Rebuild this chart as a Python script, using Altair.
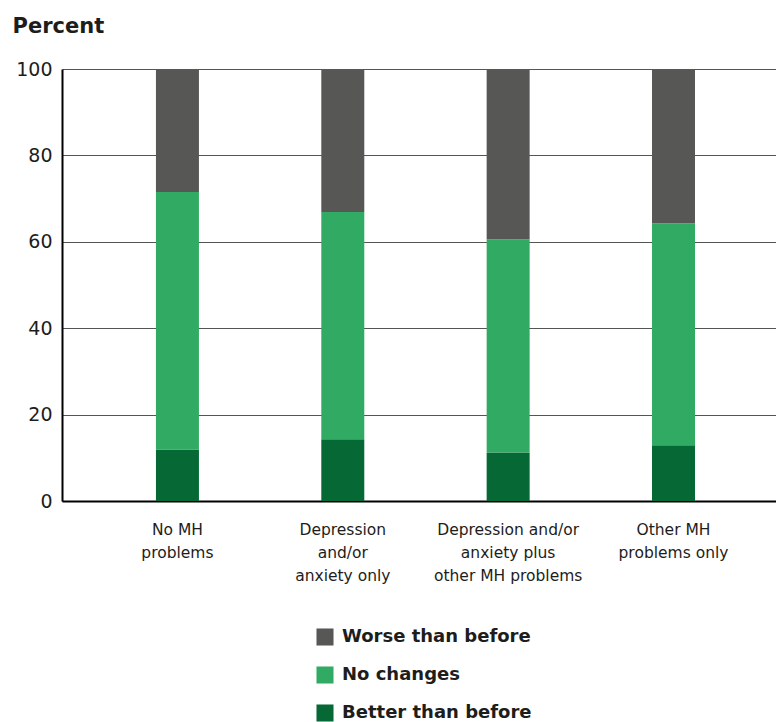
import altair as alt
import pandas as pd

categories = ["No MH|problems", "Depression|and/or|anxiety only",
              "Depression and/or|anxiety plus|other MH problems", "Other MH|problems only"]
series = ["Worse than before", "No changes", "Better than before"]
better = [11.9, 14.3, 11.2, 12.9]
no_change = [59.6, 52.6, 49.4, 51.4]
worse = [28.5, 33.1, 39.4, 35.7]
colors = ["#575756", "#31AB63", "#056835"]

rows = []
for i, c in enumerate(categories):
    rows.append({"cat": c, "series": "Better than before", "value": better[i], "ord": 0})
    rows.append({"cat": c, "series": "No changes", "value": no_change[i], "ord": 1})
    rows.append({"cat": c, "series": "Worse than before", "value": worse[i], "ord": 2})
df = pd.DataFrame(rows)

FONT = "DejaVu Sans"

chart = alt.Chart(df).mark_bar().encode(
    x=alt.X("cat:N", sort=categories,
            scale=alt.Scale(paddingInner=0.74, paddingOuter=0.529, align=0.537),
            axis=alt.Axis(title=None, labelAngle=0, ticks=False,
                          labelExpr="split(datum.label, '|')",
                          labelFontSize=15.5, labelLineHeight=23, labelPadding=21,
                          labelColor="#1d1d1b", labelFont=FONT, labelLimit=0,
                          domainColor="#000000", domainWidth=2)),
    y=alt.Y("value:Q", stack="zero",
            scale=alt.Scale(domain=[0, 100], nice=False),
            axis=alt.Axis(values=[0, 20, 40, 60, 80, 100], ticks=False,
                          title="Percent", titleAngle=0, titleAlign="left",
                          titleBaseline="alphabetic", titleX=-50, titleY=-37,
                          titleFontSize=21, titleFontWeight="bold", titleFont=FONT,
                          titleColor="#1d1d1b",
                          labelFontSize=19, labelPadding=10, labelFont=FONT,
                          labelColor="#1d1d1b",
                          domainColor="#000000", domainWidth=2,
                          grid=True, gridColor="#555555", gridWidth=1.2)),
    color=alt.Color("series:N",
                    scale=alt.Scale(domain=series, range=colors),
                    legend=alt.Legend(title=None, orient="none", legendX=254, legendY=559,
                                      direction="vertical", symbolType="square",
                                      symbolSize=290, symbolStrokeWidth=0,
                                      labelFontSize=18, labelFontWeight="bold",
                                      labelFont=FONT, labelColor="#1d1d1b", labelLimit=0,
                                      rowPadding=20, labelOffset=8)),
    order=alt.Order("ord:Q", sort="ascending"),
).properties(
    width=714, height=432,
    autosize=alt.AutoSizeParams(type="none"),
    padding={"left": 54, "top": 61, "right": 0, "bottom": 221},
    background="white",
).configure_view(stroke=None)

chart.save("out.html", embed_options={"renderer": "svg", "actions": False})
